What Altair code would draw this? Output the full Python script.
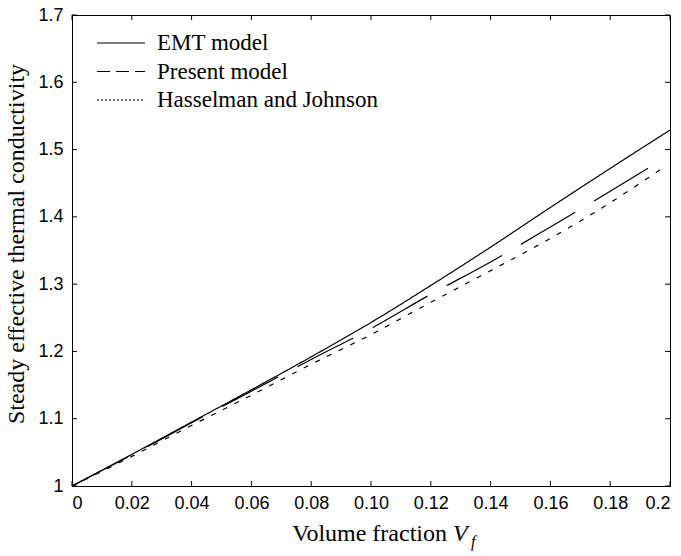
import altair as alt
import pandas as pd

# ---------------- data ----------------
series_names = ["EMT model", "Present model", "Hasselman and Johnson"]

vf_emt = [0.00, 0.02, 0.04, 0.06, 0.08, 0.10, 0.12, 0.14, 0.16, 0.18, 0.20]
k_emt = [1.000, 1.047, 1.095, 1.143, 1.192, 1.243, 1.298, 1.355, 1.414, 1.472, 1.529]

vf_present = [0.00, 0.02, 0.04, 0.06, 0.08, 0.10, 0.12, 0.14, 0.16, 0.18, 0.194]
k_present = [1.000, 1.046, 1.094, 1.141, 1.188, 1.234, 1.285, 1.333, 1.385, 1.438, 1.476]

vf_hass = [0.00, 0.02, 0.04, 0.06, 0.08, 0.10, 0.12, 0.14, 0.16, 0.18, 0.198]
k_hass = [1.000, 1.044, 1.090, 1.135, 1.181, 1.225, 1.273, 1.320, 1.368, 1.421, 1.474]

x_ticks = [0, 0.02, 0.04, 0.06, 0.08, 0.10, 0.12, 0.14, 0.16, 0.18, 0.2]
x_tick_labels = ["0", "0.02", "0.04", "0.06", "0.08", "0.10", "0.12", "0.14", "0.16", "0.18", "0.2"]
y_ticks = [1, 1.1, 1.2, 1.3, 1.4, 1.5, 1.6, 1.7]
y_tick_labels = ["1", "1.1", "1.2", "1.3", "1.4", "1.5", "1.6", "1.7"]

y_title = "Steady effective thermal conductivity"
x_title_main = "Volume fraction"
x_title_var = "V"
x_title_sub = "f"

# ---------------- build tables ----------------
rows = []
for name, xs, ys in zip(series_names, [vf_emt, vf_present, vf_hass], [k_emt, k_present, k_hass]):
    for xv, yv in zip(xs, ys):
        rows.append({"series": name, "vf": xv, "k": yv})
df = pd.DataFrame(rows)
df_xt = pd.DataFrame({"xt": x_ticks})
df_yt = pd.DataFrame({"yt": y_ticks})

W, H = 598, 471
SERIF = "Liberation Serif"
SANS = "Liberation Sans"
TICK = 5

x_expr = "[" + ",".join("'%s'" % s for s in x_tick_labels) + "][round(datum.value*50)]"
y_expr = "[" + ",".join("'%s'" % s for s in y_tick_labels) + "][round((datum.value-1)*10)]"

xscale = alt.Scale(domain=[0, 0.2], nice=False, zero=False)
yscale = alt.Scale(domain=[1, 1.7], nice=False, zero=False)

x_axis = alt.Axis(
    values=x_ticks, labelExpr=x_expr, ticks=False, tickSize=0, grid=False, title=None,
    domainColor="black", domainWidth=1, labelFont=SANS, labelFontSize=18,
    labelColor="black", labelPadding=8,
)
y_axis = alt.Axis(
    values=y_ticks, labelExpr=y_expr, ticks=False, tickSize=0, grid=False, title=None,
    domainColor="black", domainWidth=1, labelFont=SANS, labelFontSize=18,
    labelColor="black", labelPadding=9,
)

lines = alt.Chart(df).mark_line(color="black", strokeWidth=1.2, interpolate="monotone").encode(
    x=alt.X("vf:Q", scale=xscale, axis=x_axis),
    y=alt.Y("k:Q", scale=yscale, axis=y_axis),
    strokeDash=alt.StrokeDash(
        "series:N",
        scale=alt.Scale(domain=series_names, range=[[1, 0], [63, 22], [5, 8]]),
        legend=None,
    ),
    detail="series:N",
    order="vf:Q",
)

# inward ticks on all four sides
xt = alt.Chart(df_xt)
yt = alt.Chart(df_yt)
tick_style = dict(color="black", strokeWidth=1)
ticks_bottom = xt.mark_rule(**tick_style).encode(
    x=alt.X("xt:Q", scale=xscale), y=alt.value(H), y2=alt.value(H - TICK))
ticks_top = xt.mark_rule(**tick_style).encode(
    x=alt.X("xt:Q", scale=xscale), y=alt.value(0), y2=alt.value(TICK))
ticks_left = yt.mark_rule(**tick_style).encode(
    y=alt.Y("yt:Q", scale=yscale), x=alt.value(0), x2=alt.value(TICK))
ticks_right = yt.mark_rule(**tick_style).encode(
    y=alt.Y("yt:Q", scale=yscale), x=alt.value(W), x2=alt.value(W - TICK))

# ---------------- legend (drawn by hand, top-left, no frame) ----------------
legend_dash = [[1, 0], [13, 6], [2, 2]]
legend_layers = []
for i, name in enumerate(series_names):
    ypos = 28 + i * 28.5
    src = alt.Chart(pd.DataFrame({"label": [name]}))
    legend_layers.append(
        src.mark_rule(color="black", strokeWidth=1.2, strokeDash=legend_dash[i]).encode(
            x=alt.value(25), x2=alt.value(73), y=alt.value(ypos)
        )
    )
    legend_layers.append(
        src.mark_text(align="left", baseline="middle", font=SERIF, fontSize=23, color="black").encode(
            x=alt.value(85), y=alt.value(ypos), text="label:N"
        )
    )

# ---------------- axis titles ----------------
title_src = alt.Chart(pd.DataFrame({"t": [y_title], "a": [x_title_main], "v": [x_title_var], "s": [x_title_sub]}))
ytitle = title_src.mark_text(
    angle=270, align="center", baseline="middle", font=SERIF, fontSize=24, color="black"
).encode(x=alt.value(-55), y=alt.value(229), text="t:N")
xtitle_a = title_src.mark_text(
    align="right", baseline="alphabetic", font=SERIF, fontSize=24, color="black"
).encode(x=alt.value(375), y=alt.value(526), text="a:N")
xtitle_v = title_src.mark_text(
    align="left", baseline="alphabetic", font=SERIF, fontSize=24, fontStyle="italic", color="black"
).encode(x=alt.value(381), y=alt.value(526), text="v:N")
xtitle_s = title_src.mark_text(
    align="left", baseline="alphabetic", font=SERIF, fontSize=16, fontStyle="italic", color="black"
).encode(x=alt.value(399), y=alt.value(532), text="s:N")

chart = (
    alt.layer(lines, ticks_bottom, ticks_top, ticks_left, ticks_right,
              *legend_layers, ytitle, xtitle_a, xtitle_v, xtitle_s)
    .properties(
        width=W,
        height=H,
        autosize=alt.AutoSizeParams(type="none"),
        padding={"left": 72, "top": 15, "right": 11, "bottom": 70},
        background="white",
    )
    .configure_view(stroke="black", strokeWidth=1)
)

chart.save("out.html", embed_options={"renderer": "svg", "actions": False})
